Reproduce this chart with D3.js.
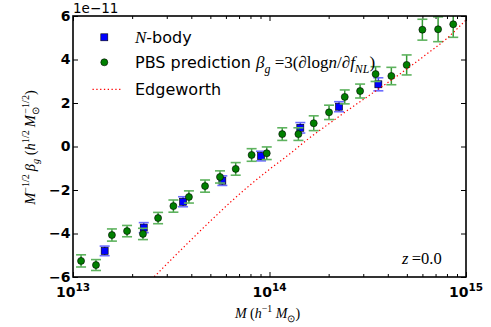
<!DOCTYPE html>
<html>
<head>
<meta charset="utf-8">
<script src="https://cdn.jsdelivr.net/npm/d3@7"></script>
<style>
  body { margin: 0; background: #fff; }
  svg { display: block; }
</style>
</head>
<body>
<script>
// values are in units of 1e-11 (the axis offset label)
const nbodyMass = [1.449e13, 2.291e13, 3.631e13, 5.754e13, 9.057e13, 1.435e14, 2.259e14, 3.581e14]
const nbodyBeta = [-4.80, -3.73, -2.54, -1.57, -0.44, 0.86, 1.83, 2.86]
const nbodyErr = [0.22, 0.23, 0.23, 0.22, 0.22, 0.24, 0.23, 0.30]

const pbsMass = [1.099e13, 1.309e13, 1.578e13, 1.884e13, 2.270e13, 2.710e13, 3.243e13, 3.890e13,
  4.699e13, 5.598e13, 6.730e13, 8.110e13, 9.683e13, 1.161e14, 1.403e14, 1.679e14, 2.009e14,
  2.415e14, 2.891e14, 3.467e14, 4.169e14, 4.989e14, 5.998e14, 7.211e14, 8.610e14]
const pbsBeta = [-5.26, -5.45, -4.07, -3.89, -4.02, -3.29, -2.74, -2.32, -1.82, -1.40, -1.03,
  -0.39, -0.31, 0.57, 0.57, 1.07, 1.57, 2.28, 2.55, 3.33, 3.24, 3.75, 5.37, 5.39, 5.62]
const pbsErr = [0.28, 0.25, 0.28, 0.26, 0.26, 0.26, 0.28, 0.28, 0.28, 0.28, 0.29, 0.29, 0.29,
  0.29, 0.29, 0.34, 0.33, 0.32, 0.32, 0.34, 0.40, 0.46, 0.48, 0.57, 0.60]

const edgeMass = [2.512e13, 3.162e13, 3.981e13, 5.012e13, 6.310e13, 7.943e13, 1e14, 1.259e14,
  1.585e14, 1.995e14, 2.512e14, 3.162e14, 3.981e14, 5.012e14, 6.310e14, 7.943e14, 1e15]
const edgeBeta = [-6.11, -5.20, -4.30, -3.42, -2.57, -1.78, -1.05, -0.36, 0.37, 1.03, 1.68,
  2.30, 2.93, 3.57, 4.25, 4.95, 5.82]

const xMajor = [1e13, 1e14, 1e15]
const xMinor = [2e13, 3e13, 4e13, 5e13, 6e13, 7e13, 8e13, 9e13, 2e14, 3e14, 4e14, 5e14, 6e14, 7e14, 8e14, 9e14]
const yTicks = [-6, -4, -2, 0, 2, 4, 6]

const fullWidth = 491
const fullHeight = 327
const margin = {top: 16, right: 25, bottom: 50, left: 73}
const width = fullWidth - margin.left - margin.right
const height = fullHeight - margin.top - margin.bottom

const SANS = 'DejaVu Sans'
const SERIF = 'Liberation Serif'

const svg = d3.select('body').append('svg')
  .attr('width', fullWidth)
  .attr('height', fullHeight)

const g = svg.append('g')
  .attr('transform', 'translate(' + margin.left + ',' + margin.top + ')')

const x = d3.scaleLog().domain([1e13, 1e15]).range([0, width])
const y = d3.scaleLinear().domain([-6, 6]).range([height, 0])

// mixed text helper: segs = [text, style, position, dx, size]
function richText(sel, segs, size) {
  let off = 0
  segs.forEach(function(s) {
    const str = s[0], style = s[1], pos = s[2], dx = s[3] || 0
    const sz = s[4] || size
    const shift = pos === 'sup' ? -0.42 * sz : pos === 'sub' ? 0.28 * sz : 0
    const ts = sel.append('tspan')
      .attr('dy', shift - off)
      .style('font-size', (pos ? sz * 0.7 : sz) + 'px')
      .text(str)
    if (dx) ts.attr('dx', dx)
    off = shift
    if (style === 'i') ts.style('font-family', SERIF).style('font-style', 'italic')
    else if (style === 'r') ts.style('font-family', SERIF)
    else ts.style('font-family', SANS)
  })
}

// clip for data
svg.append('defs').append('clipPath').attr('id', 'plotclip')
  .append('rect').attr('width', width).attr('height', height)

// axes with inward ticks
function styleAxis(sel) {
  sel.select('.domain').remove()
  sel.selectAll('line').attr('stroke', '#000').attr('stroke-width', 1)
}

g.append('g').attr('transform', 'translate(0,' + height + ')')
  .call(d3.axisBottom(x).tickValues(xMajor).tickSize(-5).tickFormat(''))
  .call(styleAxis)
g.append('g').attr('transform', 'translate(0,' + height + ')')
  .call(d3.axisBottom(x).tickValues(xMinor).tickSize(-3).tickFormat(''))
  .call(styleAxis)
g.append('g')
  .call(d3.axisTop(x).tickValues(xMajor).tickSize(-5).tickFormat(''))
  .call(styleAxis)
g.append('g')
  .call(d3.axisTop(x).tickValues(xMinor).tickSize(-3).tickFormat(''))
  .call(styleAxis)

const yAxisEle = g.append('g')
  .call(d3.axisLeft(y).tickValues(yTicks).tickSize(-5).tickPadding(2.5))
  .call(styleAxis)
yAxisEle.selectAll('text')
  .style('font-family', SANS).style('font-weight', 'bold').style('font-size', '14px')
  .attr('fill', '#000')

g.append('g').attr('transform', 'translate(' + width + ',0)')
  .call(d3.axisRight(y).tickValues(yTicks).tickSize(-5).tickFormat(''))
  .call(styleAxis)

// x tick labels 10^n
xMajor.forEach(function(v) {
  const t = g.append('text')
    .attr('x', x(v))
    .attr('y', height + 20)
    .attr('text-anchor', 'middle')
    .style('font-family', SANS).style('font-weight', 'bold').style('font-size', '14px')
  t.append('tspan').text('10')
  t.append('tspan').attr('dy', -6).style('font-size', '10.5px').text(Math.round(Math.log10(v)))
})

// offset label
g.append('text')
  .attr('x', 0).attr('y', -3)
  .style('font-family', SANS).style('font-size', '13.5px')
  .text('1e\u221211')

// data layer
const plot = g.append('g').attr('clip-path', 'url(#plotclip)')

function errorBars(layer, mass, val, err, color, capColor) {
  const cap = 5
  const eb = layer.append('g')
  eb.selectAll('line.v').data(mass).enter().append('line')
    .attr('x1', d => x(d)).attr('x2', d => x(d))
    .attr('y1', (d, i) => y(val[i] - err[i])).attr('y2', (d, i) => y(val[i] + err[i]))
    .attr('stroke', color).attr('stroke-width', 1.5).attr('opacity', 0.85)
  ;[1, -1].forEach(function(sgn) {
    eb.selectAll('line.c' + sgn).data(mass).enter().append('line')
      .attr('x1', d => x(d) - cap).attr('x2', d => x(d) + cap)
      .attr('y1', (d, i) => y(val[i] + sgn * err[i])).attr('y2', (d, i) => y(val[i] + sgn * err[i]))
      .attr('stroke', capColor).attr('stroke-width', 1.6)
  })
}

// N-body
errorBars(plot, nbodyMass, nbodyBeta, nbodyErr, '#1a1aff', '#6b6bff')
plot.append('g').selectAll('rect').data(nbodyMass).enter().append('rect')
  .attr('x', d => x(d) - 3.5)
  .attr('y', (d, i) => y(nbodyBeta[i]) - 3.5)
  .attr('width', 7).attr('height', 7)
  .attr('fill', '#0000ff').attr('stroke', '#000').attr('stroke-width', 0.6)

// PBS prediction
errorBars(plot, pbsMass, pbsBeta, pbsErr, '#138a13', '#5fb35f')
plot.append('g').selectAll('circle').data(pbsMass).enter().append('circle')
  .attr('cx', d => x(d))
  .attr('cy', (d, i) => y(pbsBeta[i]))
  .attr('r', 3.5)
  .attr('fill', '#008000').attr('stroke', '#000').attr('stroke-width', 0.6)

// Edgeworth
const line = d3.line()
  .x(d => x(d))
  .y((d, i) => y(edgeBeta[i]))
  .curve(d3.curveMonotoneX)
plot.append('path')
  .attr('d', line(edgeMass))
  .attr('fill', 'none').attr('stroke', '#ff0000').attr('stroke-width', 1.2)
  .attr('stroke-dasharray', '1.3,2.5')

// frame
g.append('rect')
  .attr('width', width).attr('height', height)
  .attr('fill', 'none').attr('stroke', '#000').attr('stroke-width', 1.6)

// legend
const leg = svg.append('g')
leg.append('rect').attr('x', 104.3 - 3.5).attr('y', 37.3 - 3.5).attr('width', 7).attr('height', 7)
  .attr('fill', '#0000ff').attr('stroke', '#000').attr('stroke-width', 0.6)
leg.append('circle').attr('cx', 104.3).attr('cy', 62.3).attr('r', 3.5)
  .attr('fill', '#008000').attr('stroke', '#000').attr('stroke-width', 0.6)
leg.append('line').attr('x1', 92.5).attr('x2', 122).attr('y1', 89.3).attr('y2', 89.3)
  .attr('stroke', '#ff0000').attr('stroke-width', 1.2).attr('stroke-dasharray', '1.3,2.5')

richText(leg.append('text').attr('x', 135).attr('y', 43.3),
  [['N', 'i', null, 0, 17], ['-body', 's']], 16)
richText(leg.append('text').attr('x', 135).attr('y', 68.3),
  [['PBS prediction ', 's'], ['\u03b2', 'i', null, 0, 17], ['g', 'i', 'sub', 0, 17], [' =3(\u2202log', 'r', null, 0, 17],
   ['n', 'i', null, 0, 17], ['/\u2202', 'r', null, 0, 17], ['f', 'i', null, 0, 17], ['NL', 'i', 'sub', 0, 17],
   [')', 'r', null, 0, 17]], 16)
richText(leg.append('text').attr('x', 135).attr('y', 95.3),
  [['Edgeworth', 's']], 16)

// redshift label
richText(svg.append('text').attr('x', 402).attr('y', 264),
  [['z', 'i'], ['\u2009=0.0', 'r']], 16.5)

// axis labels
richText(svg.append('text').attr('x', margin.left + x(1e14) - 2).attr('y', 318).attr('text-anchor', 'middle'),
  [['M', 'i'], [' (', 'r'], ['h', 'i'], ['\u22121', 'r', 'sup'], ['  ', 'r'], ['M', 'i'], ['\u2299', 'r', 'sub'], [')', 'r']], 14)

richText(svg.append('text').attr('transform', 'translate(35,147.5) rotate(-90)').attr('text-anchor', 'middle'),
  [['M', 'i'], ['\u22121/2', 'r', 'sup'], ['\u2009', 'r'], ['\u03b2', 'i'], ['g', 'i', 'sub'], ['  (', 'r'], ['h', 'i'],
   ['1/2', 'r', 'sup'], ['\u2009', 'r'], ['M', 'i'], ['\u2299', 'r', 'sub'], ['\u22121/2', 'r', 'sup', -6.5], [')', 'r']], 14.5)
</script>
</body>
</html>
